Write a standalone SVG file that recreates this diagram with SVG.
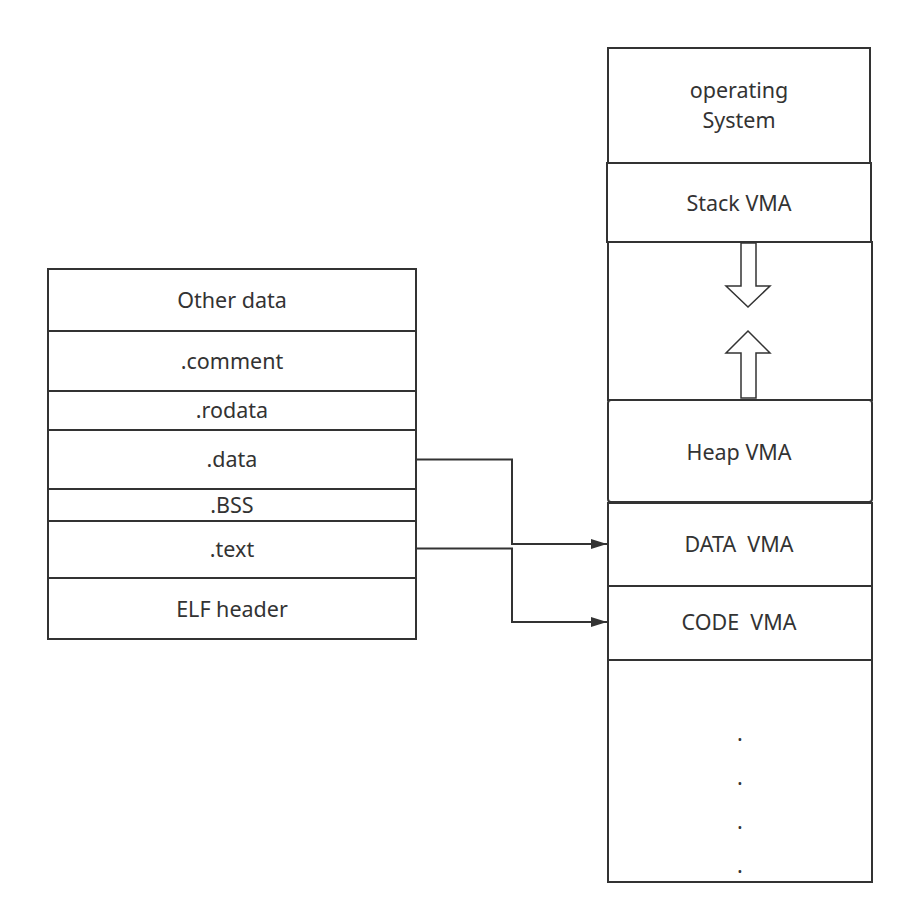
<svg xmlns="http://www.w3.org/2000/svg" width="904" height="914" viewBox="0 0 904 914">
<defs>
<style>
.box{fill:#fff;stroke:#333;stroke-width:2}
.lbl{font-family:"Noto Sans","Open Sans",sans-serif;font-size:21.5px;fill:#333;text-anchor:middle;dominant-baseline:central;white-space:pre}
.conn{fill:none;stroke:#333;stroke-width:2}
.harrow{fill:#fff;stroke:#333;stroke-width:1.5}
</style>
<marker id="ah" viewBox="0 0 16 10" refX="16" refY="5" markerWidth="16" markerHeight="10" markerUnits="userSpaceOnUse" orient="auto">
<path d="M0,0 L16,5 L0,10 Z" fill="#333"/>
</marker>
</defs>
<rect width="904" height="914" fill="#fff"/>
<g id="elf">
<g id="other-data"><rect class="box" x="48" y="269" width="368" height="62"/><text class="lbl" x="232" y="299">Other data</text></g>
<g id="comment"><rect class="box" x="48" y="331" width="368" height="60"/><text class="lbl" x="232" y="360">.comment</text></g>
<g id="rodata"><rect class="box" x="48" y="391" width="368" height="39"/><text class="lbl" x="232" y="409">.rodata</text></g>
<g id="data"><rect class="box" x="48" y="430" width="368" height="59"/><text class="lbl" x="232" y="458">.data</text></g>
<g id="bss"><rect class="box" x="48" y="489" width="368" height="32"/><text class="lbl" x="232" y="504">.BSS</text></g>
<g id="text"><rect class="box" x="48" y="521" width="368" height="57"/><text class="lbl" x="232" y="548">.text</text></g>
<g id="elf-header"><rect class="box" x="48" y="578" width="368" height="61"/><text class="lbl" x="232" y="608">ELF header</text></g>
</g>
<g id="vm">
<g id="os"><rect class="box" x="608" y="48" width="262" height="115"/><text class="lbl" x="739" y="89"><tspan x="739" y="89">operating</tspan><tspan x="739" y="119">System</tspan></text></g>
<g id="stack"><rect class="box" x="607" y="163" width="264" height="79"/><text class="lbl" x="739" y="202">Stack VMA</text></g>
<g id="gap"><rect class="box" x="608" y="242" width="264" height="158"/>
<path class="harrow" d="M741,243 L756,243 L756,286 L770,286 L748,307 L726,286 L741,286 Z"/>
<path class="harrow" d="M748,331 L770,353 L756,353 L756,398 L741,398 L741,353 L726,353 Z"/>
</g>
<g id="heap"><rect class="box" x="608" y="400" width="264" height="102" rx="3"/><text class="lbl" x="739" y="451">Heap VMA</text></g>
<g id="data-vma"><rect class="box" x="608" y="503" width="264" height="83"/><text class="lbl" x="739" y="543">DATA  VMA</text></g>
<g id="code-vma"><rect class="box" x="608" y="586" width="264" height="74"/><text class="lbl" x="739" y="621">CODE  VMA</text></g>
<g id="rest"><rect class="box" x="608" y="660" width="264" height="222"/>
<text class="lbl" x="740" y="732">.</text>
<text class="lbl" x="740" y="776">.</text>
<text class="lbl" x="740" y="820">.</text>
<text class="lbl" x="740" y="864">.</text>
</g>
</g>
<g id="connectors">
<path class="conn" d="M416,459.5 L512,459.5 L512,544 L607,544" marker-end="url(#ah)"/>
<path class="conn" d="M416,548.5 L512,548.5 L512,622 L607,622" marker-end="url(#ah)"/>
</g>
</svg>
